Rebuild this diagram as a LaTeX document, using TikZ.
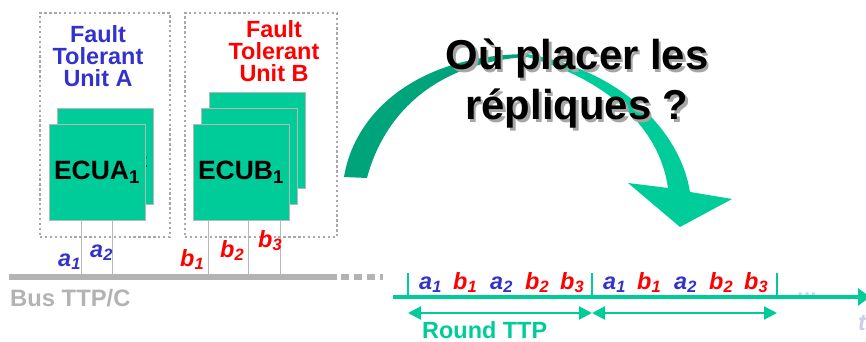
\documentclass[tikz,border=0pt]{standalone}
\usepackage{fontspec}
\setmainfont{Liberation Sans}
\usetikzlibrary{arrows.meta, positioning, calc}
\definecolor{ecugreen}{HTML}{00CC99}
\definecolor{arcdark}{HTML}{00A47A}
\definecolor{ftublue}{HTML}{3333CC}
\definecolor{ftured}{HTML}{FF0000}
\definecolor{busgray}{HTML}{B3B3B3}
\definecolor{dotgray}{HTML}{A8A8A8}
\definecolor{edgegray}{HTML}{B8B8B8}
\definecolor{shadowgray}{HTML}{A6A6A6}
\definecolor{ghost}{HTML}{CCCCEE}

\begin{document}
\begin{tikzpicture}[
    x=0.03cm, y=-0.03cm,
    ftubox/.style={
        rectangle,
        draw=dotgray,
        line width=2.2pt,
        dash pattern=on 2pt off 2.2pt,
        minimum height=6.72cm,
        inner sep=0pt
    },
    ftulabel/.style={
        font=\bfseries\fontsize{20}{19}\selectfont,
        align=center,
        inner sep=0pt,
        text=#1
    },
    ecubox/.style={
        rectangle,
        draw=edgegray,
        line width=0.8pt,
        fill=ecugreen,
        minimum width=2.88cm,
        minimum height=2.88cm,
        inner sep=0pt,
        font=\bfseries\fontsize{22.6}{26}\selectfont
    },
    stub/.style={draw=edgegray, line width=0.8pt},
    bus/.style={draw=busgray, line width=4.3pt},
    slot/.style={
        font=\bfseries\itshape\fontsize{20}{22}\selectfont,
        inner sep=0pt,
        anchor=base west,
        text=#1
    },
    timeline/.style={draw=ecugreen, line width=2.6pt},
    roundspan/.style={
        draw=ecugreen,
        line width=1.8pt,
        {Triangle[length=0.39cm,width=0.39cm]}-{Triangle[length=0.39cm,width=0.39cm]}
    },
    title/.style={
        font=\bfseries\fontsize{35.7}{43}\selectfont,
        inner sep=0pt,
        anchor=base
    }
]
\useasboundingbox (0,0) rectangle (866,342);

% Fault tolerant units
\node[ftubox, minimum width=3.9cm] (ftuA) at (105,125) {};
\node[ftubox, minimum width=4.56cm] (ftuB) at (261,125) {};
\node[ftulabel=ftublue] (ftuAlabel) at (98,56) {Fault\\Tolerant\\Unit A};
\node[ftulabel=ftured] (ftuBlabel) at (274,51) {Fault\\Tolerant\\Unit B};

% ECUs
\node[ecubox] (ecua2) at (105,156) {ECUA\textsubscript{2}};
\node[ecubox] (ecua1) at (97,172) {ECUA\textsubscript{1}};
\node[ecubox] (ecub3) at (257,140.5) {};
\node[ecubox] (ecub2) at (249,156) {};
\node[ecubox] (ecub1) at (241,172) {ECUB\textsubscript{1}};

% Bus
\coordinate (busW) at (9,277);
\coordinate (busE) at (337,277);
\coordinate (busdots) at (383,277);
\foreach \dx in {33,64}
    \draw[stub] ($(ecua1.south west)+(\dx,0)$) -- ++(0,57);
\foreach \dx in {16,56,88}
    \draw[stub] ($(ecub1.south west)+(\dx,0)$) -- ++(0,57);
\draw[bus] (busW) -- (busE);
\draw[bus, dash pattern=on 7pt off 4.3pt] ([xshift=3pt]busE) -- (busdots);

\node[slot=ftublue] (busa1) at (58,266) {a\textsubscript{1}};
\node[slot=ftublue] (busa2) at (90,257) {a\textsubscript{2}};
\node[slot=ftured] (busb1) at (180,266) {b\textsubscript{1}};
\node[slot=ftured] (busb2) at (220,257) {b\textsubscript{2}};
\node[slot=ftured] (busb3) at (258,247) {b\textsubscript{3}};
\node[font=\bfseries\fontsize{20.3}{22}\selectfont, text=busgray, inner sep=0pt, anchor=base west] (buslabel) at (10,306) {Bus TTP/C};

% Curved arrow
\fill[arcdark] (344,177) .. controls (355,110) and (420,55) .. (527,54)
    -- (527,57) .. controls (440,62) and (385,110) .. (367,178) -- cycle;
\fill[ecugreen] (527,54) .. controls (620,70) and (680,130) .. (690,192)
    -- (732,199) -- (680,227) -- (628,183) -- (668,188)
    .. controls (660,130) and (610,80) .. (527,57) -- cycle;

% Question
\node[title, text=shadowgray] (titleAshadow) at (579.5,72.5) {Où placer les};
\node[title, text=shadowgray] (titleBshadow) at (579.5,122.5) {répliques ?};
\node[title] (titleA) at (577,70) {Où placer les};
\node[title] (titleB) at (577,120) {répliques ?};

% Time line
\coordinate (tlstart) at (393,297);
\coordinate (tlend) at (870,297);
\node[font=\bfseries\fontsize{20}{22}\selectfont, text=ghost, inner sep=0pt, anchor=base west] (more) at (797,296) {...};
\draw[timeline, -{Triangle[length=0.36cm,width=0.51cm]}] (tlstart) -- (tlend);
\foreach \x [count=\i from 0] in {408,592,777} {
    \coordinate (tk\i) at (\x,273);
    \coordinate (sp\i) at (\x,313);
    \draw[timeline, line width=2pt] (tk\i) -- (tk\i |- tlstart);
}
\foreach \r in {0,1}
    \foreach \dx/\l/\s/\col in {11/a/1/ftublue, 45/b/1/ftured, 82/a/2/ftublue, 117/b/2/ftured, 152/b/3/ftured}
        \node[slot=\col] (r\r\l\s) at ($(tk\r |- 0,289)+(\dx,0)$) {\l\textsubscript{\s}};
\draw[roundspan] (sp0) -- (sp1);
\draw[roundspan] (sp1) -- (sp2);
\node[font=\bfseries\fontsize{20}{22}\selectfont, text=ecugreen, inner sep=0pt, anchor=base west] (roundlabel) at (422,338) {Round TTP};
\node[font=\bfseries\itshape\fontsize{20}{22}\selectfont, text=ghost, inner sep=0pt, anchor=base west] (tlabel) at (858,330) {t};

\end{tikzpicture}
\end{document}
